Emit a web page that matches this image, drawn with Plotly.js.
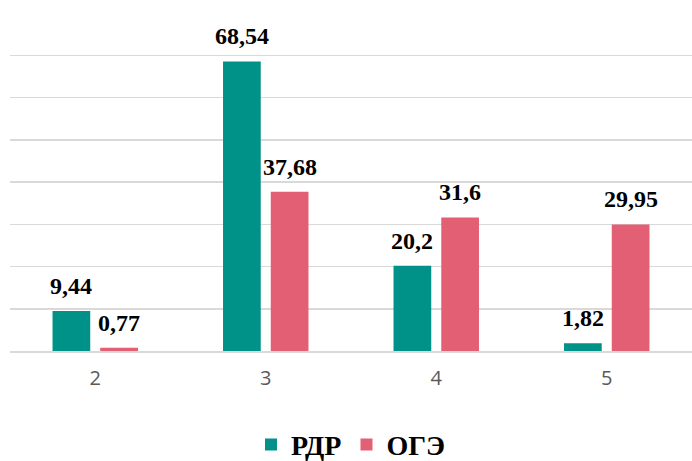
<!DOCTYPE html>
<html><head><meta charset="utf-8">
<script src="https://cdn.plot.ly/plotly-3.0.1.min.js"></script>
<style>html,body{margin:0;padding:0;background:#fff;}#c{width:692px;height:461px;}</style>
</head><body><div id="c"></div>
<script>
const categories = ['2', '3', '4', '5'];
const rdrValues = [9.44, 68.54, 20.2, 1.82];
const ogeValues = [0.77, 37.68, 31.6, 29.95];
const rdrLabels = ['9,44', '68,54', '20,2', '1,82'];
const ogeLabels = ['0,77', '37,68', '31,6', '29,95'];
const seriesNames = ['РДР', 'ОГЭ'];
const colors = ['#009189', '#E35F73'];

const serif = 'Liberation Serif, Times New Roman, serif';
const traces = [
  {type: 'bar', name: seriesNames[0], x: categories, y: rdrValues,
   marker: {color: colors[0]}, hoverinfo: 'none'},
  {type: 'bar', name: seriesNames[1], x: categories, y: ogeValues,
   marker: {color: colors[1]}, hoverinfo: 'none'}
];
const annotations = [];
[[rdrValues, rdrLabels, -1], [ogeValues, ogeLabels, 1]].forEach(([vals, labs, side]) => {
  vals.forEach((v, i) => {
    annotations.push({xref: 'x', yref: 'y', x: i, y: v, text: '<b>' + labs[i] + '</b>',
      showarrow: false, xanchor: 'center', yanchor: 'bottom', xshift: side * 24, yshift: 10,
      font: {family: serif, size: 24, color: '#000000'}});
  });
});
const layout = {
  width: 692, height: 461,
  margin: {l: 10, r: 0, t: 13, b: 110},
  paper_bgcolor: '#ffffff', plot_bgcolor: '#ffffff',
  barmode: 'group', bargap: 0.44, bargroupgap: 0.21,
  font: {family: 'Liberation Sans, Arial, sans-serif'},
  xaxis: {type: 'category', range: [-0.5, 3.5], autorange: false, showgrid: false, showline: true,
          linecolor: '#d9d9d9', linewidth: 1.5,
          ticks: '', tickfont: {family: 'Open Sans, Noto Sans, sans-serif', size: 20, color: '#595959'},
          ticklabelstandoff: 8},
  yaxis: {range: [0, 80], dtick: 10, showgrid: true, gridcolor: '#d9d9d9', gridwidth: 1.5,
          showticklabels: false, zeroline: false, ticks: ''},
  annotations: annotations,
  showlegend: true,
  legend: {orientation: 'h', x: 0.5, xanchor: 'center', y: 0.035, yref: 'container', yanchor: 'middle',
           font: {family: serif, size: 28, color: '#000000', weight: 'bold'},
           itemwidth: 30, traceorder: 'normal'}
};
Plotly.newPlot('c', traces, layout, {staticPlot: true});
</script></body></html>
